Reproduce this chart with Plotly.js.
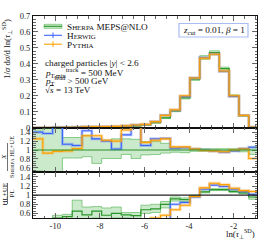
<!DOCTYPE html>
<html><head><meta charset="utf-8">
<script src="https://cdn.plot.ly/plotly-3.0.1.min.js"></script>
<style>html,body{margin:0;padding:0;background:#fff}#c{width:266px;height:240px}</style>
</head><body><div id="c"></div>
<script>
// ---- data ----
const binEdges = [-11, -10.56, -10.12, -9.68, -9.24, -8.8, -8.36, -7.92, -7.48, -7.04, -6.6, -6.16, -5.72, -5.28, -4.84, -4.4, -3.96, -3.52, -3.08, -2.64, -2.2, -1.76, -1.32, -0.88];
const sherpa = [0.0005, 0.001, 0.0015, 0.002, 0.003, 0.004, 0.005, 0.006, 0.007, 0.008, 0.011, 0.018, 0.031, 0.062, 0.105, 0.187, 0.305, 0.44, 0.47, 0.37, 0.2, 0.075, 0.003];
const sherpaUnc = [0.0003, 0.0005, 0.0006, 0.0004, 0.0006, 0.0008, 0.001, 0.0012, 0.0013, 0.0013, 0.0015, 0.002, 0.003, 0.004, 0.005, 0.007, 0.009, 0.012, 0.012, 0.01, 0.006, 0.003, 0.0003];
const herwig = [0.0007, 0.0014, 0.0026, 0.0022, 0.0033, 0.0057, 0.0063, 0.0072, 0.0071, 0.0107, 0.0168, 0.0198, 0.039, 0.078, 0.109, 0.196, 0.311, 0.44, 0.46, 0.352, 0.196, 0.077, 0.0032];
const pythia = [0.0006, 0.0009, 0.0015, 0.002, 0.0031, 0.0053, 0.0066, 0.0073, 0.0084, 0.0116, 0.017, 0.021, 0.038, 0.077, 0.112, 0.2, 0.311, 0.436, 0.46, 0.355, 0.2, 0.077, 0.0024];
// ratio X / Sherpa HL+UE
const herwigR1 = [1.40, 1.37, 1.60, 1.13, 1.10, 1.43, 1.25, 1.20, 1.02, 1.34, 1.55, 1.10, 1.25, 1.26, 1.04, 1.05, 1.02, 1.00, 0.98, 0.95, 0.98, 1.03, 1.06];
const pythiaR1 = [1.25, 0.93, 0.97, 0.98, 1.03, 1.32, 1.32, 1.22, 1.20, 1.45, 1.55, 1.17, 1.22, 1.25, 1.07, 1.07, 1.02, 0.99, 0.98, 0.96, 1.00, 1.02, 0.81];
const sherpaR1Lo = [0.53, 0.30, 0.30, 0.82, 0.82, 0.85, 0.70, 0.81, 0.81, 0.90, 0.81, 0.89, 0.90, 0.93, 0.95, 0.94, 0.97, 0.97, 0.97, 0.97, 0.97, 0.96, 0.90];
const sherpaR1Hi = [1.45, 1.70, 1.70, 1.28, 1.28, 1.33, 1.26, 1.22, 1.25, 1.25, 1.24, 1.19, 1.19, 1.15, 1.05, 1.05, 1.03, 1.03, 1.03, 1.03, 1.03, 1.04, 1.07];
// ratio HL+UE / PL
const sherpaR2 = [0.30, 0.30, 0.50, 0.53, 0.65, 0.57, 0.65, 0.56, 0.60, 0.57, 0.55, 0.68, 0.70, 0.80, 0.92, 0.90, 0.98, 1.07, 1.12, 1.12, 1.08, 1.05, 0.96];
const sherpaR2Lo = [0.20, 0.20, 0.30, 0.30, 0.40, 0.45, 0.50, 0.45, 0.50, 0.50, 0.48, 0.60, 0.62, 0.72, 0.87, 0.86, 0.96, 1.05, 1.10, 1.10, 1.06, 1.03, 0.91];
const sherpaR2Hi = [0.40, 0.40, 0.56, 0.58, 0.89, 0.74, 0.75, 0.72, 0.74, 0.62, 0.62, 0.78, 0.80, 0.86, 0.96, 0.94, 1.00, 1.09, 1.14, 1.14, 1.10, 1.07, 1.01];
const herwigR2 = [0.30, 0.30, 0.30, 0.30, 0.30, 0.30, 0.30, 0.30, 0.30, 0.30, 0.30, 0.30, 0.30, 0.45, 0.80, 0.84, 0.96, 1.13, 1.22, 1.19, 1.13, 1.08, 1.02];
const pythiaR2 = [0.30, 0.30, 0.30, 0.30, 0.30, 0.30, 0.30, 0.30, 0.30, 0.30, 0.30, 0.30, 0.50, 0.56, 0.68, 0.78, 0.97, 1.16, 1.26, 1.23, 1.15, 1.10, 1.08];
const xTickVals = [-10, -8, -6, -4, -2];
const xTickText = ['-10', '-8', '-6', '-4', '-2'];
const mainTickVals = [0, 0.1, 0.2, 0.3, 0.4, 0.5, 0.6, 0.7];
const mainTickText = ['0', '0.1', '0.2', '0.3', '0.4', '0.5', '0.6', '0.7'];
const ratioTickVals = [0.6, 0.8, 1, 1.2, 1.4];
const ratioTickText = ['0.6', '0.8', '1', '1.2', '1.4'];

// ---- styling ----
const FONT = 'Liberation Serif, Times New Roman, serif';
const GREEN = 'rgb(40,150,40)', GREENBAND = 'rgba(70,175,70,0.28)', GREENEDGE = 'rgba(70,175,70,0.65)';
const BLUE = 'rgb(60,100,255)', BLUEHALO = 'rgba(80,120,255,0.35)';
const ORANGE = 'rgb(255,160,0)', ORANGEHALO = 'rgba(255,170,40,0.4)';
const L = 33, R = 9, T = 16, B = 22, W = 266, H = 240;
const PW = W - L - R, PH = H - T - B;
const PX = p => (p - L) / PW, PY = p => (H - B - p) / PH;

function step(vals) { return { x: binEdges.slice(), y: vals.concat([vals[vals.length - 1]]) }; }
function line(vals, xa, ya, color, width, extra) {
  const s = step(vals);
  return Object.assign({ type: 'scatter', mode: 'lines', x: s.x, y: s.y, xaxis: xa, yaxis: ya,
    line: { shape: 'hv', color: color, width: width }, hoverinfo: 'skip' }, extra || {});
}
const traces = [];
// main panel
const sLo = sherpa.map((v, i) => v - sherpaUnc[i]);
const sHi = sherpa.map((v, i) => v + sherpaUnc[i]);
traces.push(line(sLo, 'x', 'y', GREENEDGE, 0.8));
traces.push(line(sHi, 'x', 'y', GREENEDGE, 0.8, { fill: 'tonexty', fillcolor: GREENBAND }));
traces.push(line(sherpa, 'x', 'y', GREEN, 1.2));
traces.push(line(herwig, 'x', 'y', BLUEHALO, 3));
traces.push(line(herwig, 'x', 'y', BLUE, 1.1));
traces.push(line(pythia, 'x', 'y', ORANGEHALO, 3));
traces.push(line(pythia, 'x', 'y', ORANGE, 1.1));
// ratio 1
traces.push(line(sherpaR1Lo, 'x2', 'y2', GREENEDGE, 0.9));
traces.push(line(sherpaR1Hi, 'x2', 'y2', GREENEDGE, 0.9, { fill: 'tonexty', fillcolor: GREENBAND }));
traces.push(line(herwigR1, 'x2', 'y2', BLUEHALO, 3));
traces.push(line(herwigR1, 'x2', 'y2', BLUE, 1.1));
traces.push(line(pythiaR1, 'x2', 'y2', ORANGEHALO, 3));
traces.push(line(pythiaR1, 'x2', 'y2', ORANGE, 1.1));
// ratio 2
traces.push(line(sherpaR2Lo, 'x3', 'y3', GREENEDGE, 0.9));
traces.push(line(sherpaR2Hi, 'x3', 'y3', GREENEDGE, 0.9, { fill: 'tonexty', fillcolor: GREENBAND }));
traces.push(line(sherpaR2, 'x3', 'y3', GREEN, 1.2));
traces.push(line(herwigR2, 'x3', 'y3', BLUEHALO, 3));
traces.push(line(herwigR2, 'x3', 'y3', BLUE, 1.1));
traces.push(line(pythiaR2, 'x3', 'y3', ORANGEHALO, 3));
traces.push(line(pythiaR2, 'x3', 'y3', ORANGE, 1.1));

const xRange = [binEdges[0], -0.95];
function xax(anchor, labels) {
  return { anchor: anchor, range: xRange, domain: [0, 1], showgrid: false, zeroline: false,
    showline: true, linecolor: '#111', linewidth: 1, mirror: 'allticks',
    ticks: 'inside', ticklen: 5, tickwidth: 1, tickcolor: '#666',
    tickmode: 'array', tickvals: xTickVals, ticktext: xTickText, showticklabels: labels,
    tickfont: { family: FONT, size: 8.5, color: '#222' },
    minor: { ticks: 'inside', ticklen: 2.5, tickwidth: 1, tickcolor: '#666', tickmode: 'linear', tick0: 0, dtick: 0.5 } };
}
function yax(domain, range, vals, text, minor) {
  return { domain: domain, range: range, showgrid: false, zeroline: false,
    showline: true, linecolor: '#111', linewidth: 1, mirror: 'allticks',
    ticks: 'inside', ticklen: 5, tickwidth: 1, tickcolor: '#666',
    tickmode: 'array', tickvals: vals, ticktext: text,
    tickfont: { family: FONT, size: 8.5, color: '#222' },
    minor: { ticks: 'inside', ticklen: 2.5, tickwidth: 1, tickcolor: '#666', tickmode: 'linear', tick0: 0, dtick: minor } };
}
const d1 = PY(127.7), d2 = PY(172.3);
const sc = (t, s) => t.replace(/\{([^}]*)\}/g, '<span style="font-size:' + s + 'px">$1</span>');
const ann = (text, x, y, opts) => Object.assign({ text: text, xref: 'paper', yref: 'paper', x: PX(x), y: PY(y),
  showarrow: false, xanchor: 'left', yanchor: 'middle', font: { family: FONT, size: 9.2, color: '#111' } }, opts || {});

const layout = {
  width: W, height: H, margin: { l: L, r: R, t: T, b: B, pad: 0 },
  paper_bgcolor: '#fff', plot_bgcolor: '#fff', showlegend: false,
  xaxis: xax('y', false), xaxis2: xax('y2', false), xaxis3: xax('y3', true),
  yaxis: yax([d1, 1], [0, 0.7], mainTickVals, mainTickText, 0.02),
  yaxis2: yax([d2, d1], [0.5, 1.5], ratioTickVals, ratioTickText, 0.05),
  yaxis3: yax([0, d2], [0.5, 1.5], ratioTickVals, ratioTickText, 0.05),
  shapes: [
    { type: 'line', xref: 'x2 domain', yref: 'y2', x0: 0, x1: 1, y0: 1, y1: 1, line: { color: GREEN, width: 1.2 } },
    { type: 'line', xref: 'x3 domain', yref: 'y3', x0: 0, x1: 1, y0: 1, y1: 1, line: { color: '#222', width: 1.1 } },
    // legend symbols
    { type: 'rect', xref: 'paper', yref: 'paper', x0: PX(44), x1: PX(62), y0: PY(24.3), y1: PY(28.3), fillcolor: GREENBAND, line: { color: GREENEDGE, width: 0.8 } },
    { type: 'line', xref: 'paper', yref: 'paper', x0: PX(44), x1: PX(62), y0: PY(26.3), y1: PY(26.3), line: { color: GREEN, width: 1.1 } },
    { type: 'line', xref: 'paper', yref: 'paper', x0: PX(44), x1: PX(62), y0: PY(35.3), y1: PY(35.3), line: { color: BLUE, width: 1.1 } },
    { type: 'line', xref: 'paper', yref: 'paper', x0: PX(53), x1: PX(53), y0: PY(32.5), y1: PY(38.1), line: { color: BLUE, width: 1 } },
    { type: 'line', xref: 'paper', yref: 'paper', x0: PX(44), x1: PX(62), y0: PY(44.2), y1: PY(44.2), line: { color: ORANGE, width: 1.1 } },
    { type: 'line', xref: 'paper', yref: 'paper', x0: PX(53), x1: PX(53), y0: PY(41.4), y1: PY(47), line: { color: ORANGE, width: 1 } },
    // z_cut box
    { type: 'rect', xref: 'paper', yref: 'paper', x0: PX(179), x1: PX(248), y0: PY(23.5), y1: PY(37), fillcolor: '#fff', line: { color: '#a9bdf2', width: 1.2 } },
    // fraction bars of ratio titles
    { type: 'line', xref: 'paper', yref: 'paper', x0: PX(7.5), x1: PX(7.5), y0: PY(143), y1: PY(171), line: { color: '#111', width: 0.6 } },
    { type: 'line', xref: 'paper', yref: 'paper', x0: PX(7.5), x1: PX(7.5), y0: PY(183), y1: PY(204), line: { color: '#111', width: 0.6 } }
  ],
  annotations: [
    ann(sc('S{HERPA} MEPS@NLO', 6.9), 65, 27),
    ann(sc('H{ERWIG}', 6.9), 65, 36),
    ann(sc('P{YTHIA}', 6.9), 65, 44.8),
    ann('charged particles |<i>y</i>| &lt; 2.6', 43, 62.5),
    ann('<i>p</i><sub>T,min</sub><sup>track</sup> = 500 MeV', 43, 72),
    ann('<i>p</i><sub>T</sub><sup>lead</sup> &gt; 500 GeV', 43, 81),
    ann('√<span style="text-decoration:overline"><i>s</i></span> = 13 TeV', 43, 90),
    ann('<i>z</i><sub>cut</sub> = 0.01, <i>β</i> = 1', 213.5, 30.3, { xanchor: 'center' }),
    ann('1/<i>σ</i> d<i>σ</i>/d ln(<i>τ</i><sub>⊥</sub><sup>SD</sup>)', 7, 49, { xanchor: 'center', textangle: -90, font: { family: FONT, size: 8.8, color: '#111' } }),
    ann('<i>X</i>', 4, 157, { xanchor: 'center', textangle: -90, font: { family: FONT, size: 7, color: '#111' } }),
    ann(sc('S{HERPA} HL+UE', 5), 11, 157, { xanchor: 'center', textangle: -90, font: { family: FONT, size: 6.5, color: '#111' } }),
    ann('HL+UE', 4, 193.5, { xanchor: 'center', textangle: -90, font: { family: FONT, size: 7, color: '#111' } }),
    ann('PL', 11, 193.5, { xanchor: 'center', textangle: -90, font: { family: FONT, size: 7, color: '#111' } }),
    ann('ln(<i>τ</i><sub>⊥</sub><sup>SD</sup>)', 257, 234, { xanchor: 'right', font: { family: FONT, size: 8.8, color: '#111' } })
  ]
};
Plotly.newPlot('c', traces, layout, { staticPlot: true, displayModeBar: false });
</script></body></html>
